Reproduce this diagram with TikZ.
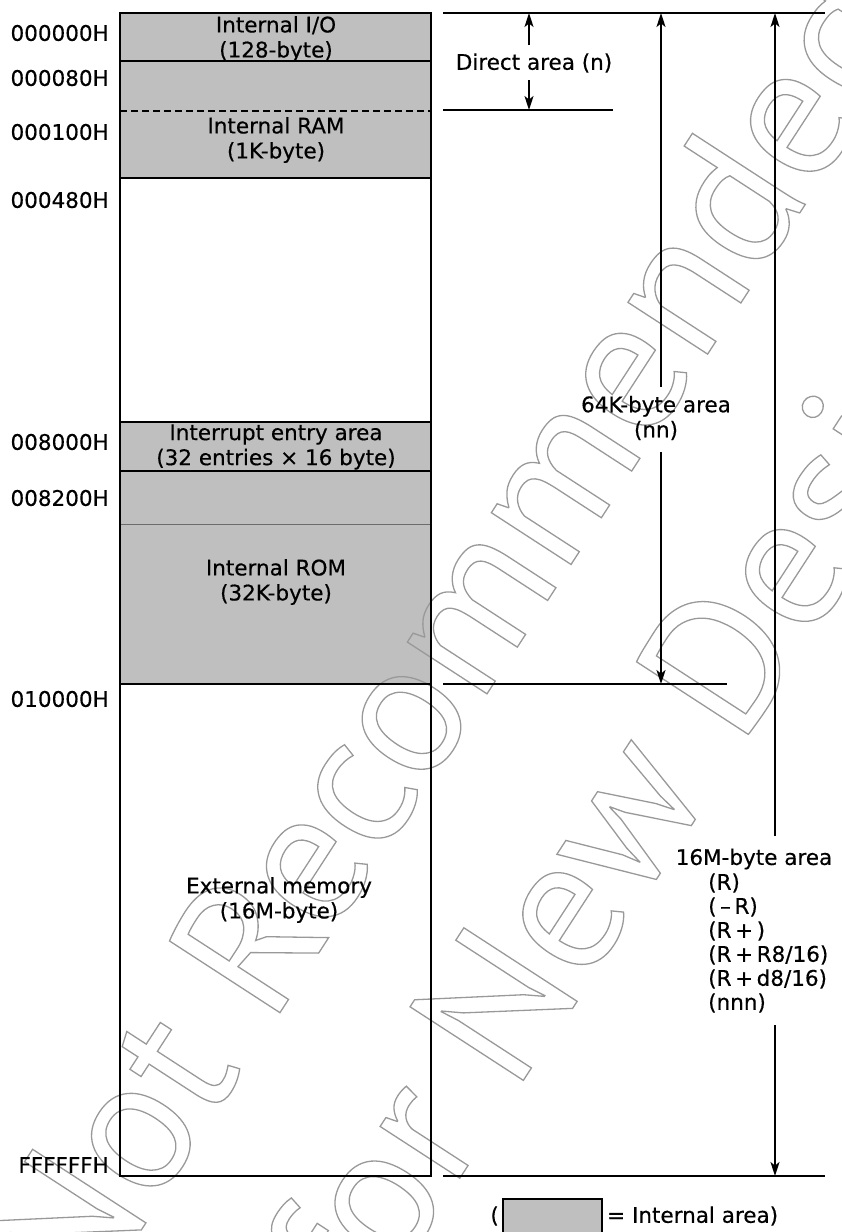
\documentclass[tikz,border=0pt]{standalone}
\usepackage{fontspec}
\setmainfont[FakeBold=0.4]{DejaVu Sans}
\newfontfamily\wmfont{PT Sans}
\usetikzlibrary{arrows.meta}
\definecolor{intgray}{gray}{0.75}
\definecolor{wmgray}{gray}{0.6}
\newcommand\wmon{\special{pdf:literal direct 1 Tr 1.3 w}}
\newcommand\wmoff{\special{pdf:literal direct 0 Tr}}
\begin{document}
\begin{tikzpicture}[x=1pt,y=-1pt,
  lbl/.style={font=\fontsize{21.5}{25}\selectfont, inner sep=0pt},
  addr/.style={lbl, anchor=east},
  area/.style={lbl, align=center},
  bound/.style={line width=2.2pt},
  dim/.style={line width=1.7pt, -{Stealth[length=14pt,width=9pt,inset=3.5pt]}},
  wmark/.style={font=\wmfont\fontsize{190}{241}\selectfont, text=wmgray, rotate=57, inner sep=0pt, align=center,
    execute at begin node=\wmon, execute at end node=\wmoff}
]
\useasboundingbox (0,0) rectangle (842,1232);
\clip (0,0) rectangle (842,1232);

% shaded internal regions
\fill[intgray] (120,13) rectangle (431,178);
\fill[intgray] (120,422) rectangle (431,684);
\draw[gray!85!black, line width=0.6pt] (120,524) -- (431,524);
\fill[intgray] (503,1199) rectangle (602,1245);

% watermark (outlined text)
\node[wmark] (wm) at (563,711) {Not Recommended\\for New Design};

% memory map box and boundaries
\draw[bound] (120,13) rectangle (431,1176);
\draw[bound] (120,61) -- (431,61);
\draw[line width=1.5pt, dash pattern=on 7pt off 4pt] (120,111) -- (431,111);
\draw[bound] (120,178) -- (431,178);
\draw[bound] (120,422) -- (431,422);
\draw[bound] (120,471) -- (431,471);
\draw[bound] (120,684) -- (431,684);

% area texts
\node[area] (io) at (276,39) {Internal I/O\\(128-byte)};
\node[area] (ram) at (276,140) {Internal RAM\\(1K-byte)};
\node[area] (irq) at (276,447) {Interrupt entry area\\(32 entries × 16 byte)};
\node[area] (rom) at (276,582) {Internal ROM\\(32K-byte)};
\node[area] (ext) at (279,900) {External memory\\(16M-byte)};

% addresses
\node[addr] (a0) at (109,33) {000000H};
\node[addr] (a1) at (109,78) {000080H};
\node[addr] (a2) at (109,132) {000100H};
\node[addr] (a3) at (109,200) {000480H};
\node[addr] (a4) at (109,442) {008000H};
\node[addr] (a5) at (109,498) {008200H};
\node[addr] (a6) at (109,699) {010000H};
\node[addr] (a7) at (109,1165) {FFFFFFH};

% right-hand reference lines
\coordinate (t0) at (443,13);   \coordinate (t1) at (825,13);
\coordinate (d0) at (443,110);  \coordinate (d1) at (613,110);
\coordinate (k0) at (443,684);  \coordinate (k1) at (727,684);
\coordinate (b0) at (443,1176); \coordinate (b1) at (825,1176);
\draw[bound] (t0) -- (t1);
\draw[bound] (d0) -- (d1);
\draw[bound] (k0) -- (k1);
\draw[bound] (b0) -- (b1);

% direct area
\node[lbl] (direct) at (534,63) {Direct area (n)};
\coordinate (dup) at (529,45);  \coordinate (dupE) at (529,13);
\coordinate (ddn) at (529,80);  \coordinate (ddnE) at (529,110);
\draw[dim] (dup) -- (dupE);
\draw[dim] (ddn) -- (ddnE);

% 64K area
\node[area] (k64) at (656,418) {64K-byte area\\(nn)};
\coordinate (kup) at (661,387); \coordinate (kupE) at (661,13);
\coordinate (kdn) at (661,452); \coordinate (kdnE) at (661,684);
\draw[dim] (kup) -- (kupE);
\draw[dim] (kdn) -- (kdnE);

% 16M area
\node[lbl] (m16) at (754,859) {16M-byte area};
\node[lbl, anchor=west] (r1) at (708,883) {(R)};
\node[lbl, anchor=west] (r2) at (708,907) {(\,–\,R)};
\node[lbl, anchor=west] (r3) at (708,931) {(R\,+\,)};
\node[lbl, anchor=west] (r4) at (708,955) {(R\,+\,R8/16)};
\node[lbl, anchor=west] (r5) at (708,979) {(R\,+\,d8/16)};
\node[lbl, anchor=west] (r6) at (708,1003) {(nnn)};
\coordinate (mup) at (775,836);  \coordinate (mupE) at (775,13);
\coordinate (mdn) at (775,1025); \coordinate (mdnE) at (775,1176);
\draw[dim] (mup) -- (mupE);
\draw[dim] (mdn) -- (mdnE);

% legend
\node[lbl, anchor=east] (lp) at (499,1216) {(};
\draw[line width=1.5pt] (503,1245) |- (602,1199) -- (602,1245);
\node[lbl, anchor=west] (leg) at (607,1216) {= Internal area)};
\end{tikzpicture}
\end{document}
